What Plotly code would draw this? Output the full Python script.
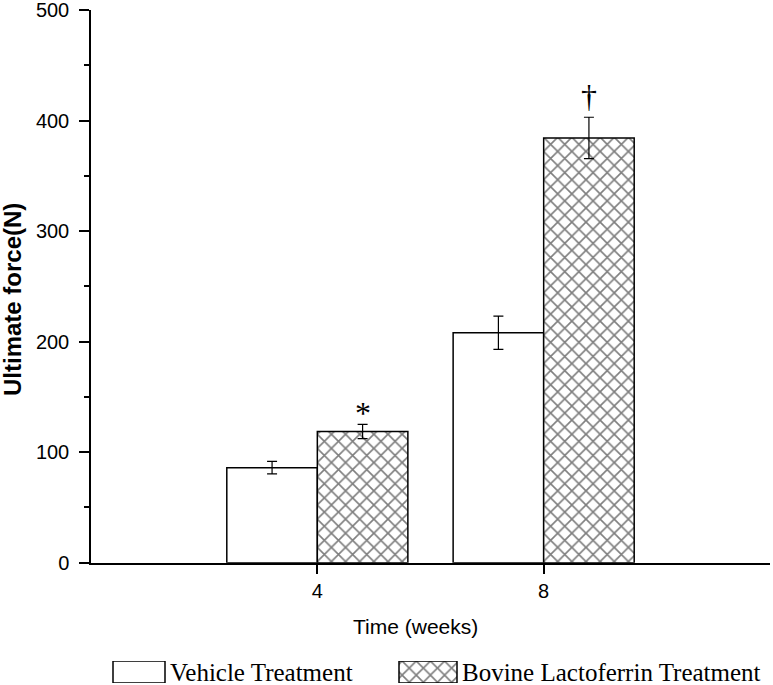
import plotly.graph_objects as go

# ---- data ----
weeks = ["4", "8"]
vehicle_mean = [86, 208]
vehicle_err = [5.6, 15]
blf_mean = [118.7, 384.3]
blf_err = [6.5, 18.7]
blf_marks = ["*", "\u2020"]
series_names = ["Vehicle Treatment", "Bovine Lactoferrin Treatment"]
y_ticks = [0, 100, 200, 300, 400, 500]

W, H = 773, 685
ML, MR, MT, MB = 91, 3, 10, 0
PW, PH = W - ML - MR, H - MT - MB
axis_bottom_px = 562.7


def py(p):  # pixel-from-top -> paper y
    return (H - MB - p) / PH


def px(p):  # pixel-from-left -> paper x
    return (p - ML) / PW


BARGAP = 0.2
half = (1 - BARGAP) / 4  # offset of each bar centre from the category centre

black = "black"
hatch = dict(shape="x", size=10, solidity=0.3, fgcolor=black, bgcolor="white")
mark_shift = [-9, 1]   # glyph-specific vertical nudges (px)

fig = go.Figure()
fig.add_trace(go.Bar(
    x=weeks, y=vehicle_mean, name=series_names[0],
    marker=dict(color="white", line=dict(color=black, width=1.5)),
    error_y=dict(type="data", array=vehicle_err, color=black, thickness=1.2, width=5),
    showlegend=False,
))
fig.add_trace(go.Bar(
    x=weeks, y=blf_mean, name=series_names[1],
    marker=dict(color="white", pattern=hatch, line=dict(color=black, width=1.5)),
    error_y=dict(type="data", array=blf_err, color=black, thickness=1.2, width=5),
    showlegend=False,
))

# significance marks above the lactoferrin error bars
for i, (m, e, mark) in enumerate(zip(blf_mean, blf_err, blf_marks)):
    fig.add_annotation(
        x=i + half, y=m + e, xref="x", yref="y", text=mark, showarrow=False,
        yanchor="bottom", yshift=mark_shift[i],
        font=dict(family="Liberation Serif, Times New Roman, serif", size=32, color=black),
    )

# ---- custom legend (swatches drawn on a hidden helper axis) ----
leg_y0, leg_y1 = 661, 683
swatches = [(113, 165, dict(color="white", line=dict(color=black, width=1.5))),
            (399, 457, dict(color="white", pattern=hatch, line=dict(color=black, width=1.5)))]
for (x0, x1, mk) in swatches:
    fig.add_trace(go.Bar(
        x=[(x0 + x1) / 2], y=[1], base=0, width=[x1 - x0], marker=mk,
        xaxis="x2", yaxis="y2", showlegend=False, hoverinfo="skip",
    ))
for (x0, x1, _), name in zip(swatches, series_names):
    fig.add_annotation(
        x=x1 + 3, y=0.5, xref="x2", yref="y2", text=name, showarrow=False,
        xanchor="left", yanchor="middle",
        font=dict(family="Liberation Serif, Times New Roman, serif", size=25, color=black),
    )

# axis titles
fig.add_annotation(
    x=px(415.5), y=py(626), xref="paper", yref="paper", text="Time (weeks)",
    showarrow=False, xanchor="center", yanchor="middle",
    font=dict(family="Liberation Sans, Arial, sans-serif", size=21, color=black),
)
fig.add_annotation(
    x=px(13), y=py(300), xref="paper", yref="paper", text="<b>Ultimate force(N)</b>",
    showarrow=False, xanchor="center", yanchor="middle", textangle=-90,
    font=dict(family="Liberation Sans, Arial, sans-serif", size=24, color=black),
)

fig.update_layout(
    width=W, height=H,
    margin=dict(l=ML, r=MR, t=MT, b=MB, pad=0, autoexpand=False),
    paper_bgcolor="white", plot_bgcolor="white",
    barmode="group", bargap=BARGAP, bargroupgap=0,
    font=dict(family="Liberation Sans, Arial, sans-serif", size=20, color=black),
    xaxis=dict(
        type="category", range=[-1, 2], domain=[0, 1], automargin=False,
        showline=True, linecolor=black, linewidth=1.5,
        ticks="outside", ticklen=10, tickwidth=1.5, tickcolor=black,
        ticklabelstandoff=0, showgrid=False, zeroline=False,
        tickfont=dict(size=20),
    ),
    yaxis=dict(
        range=[0, 500.01], domain=[py(axis_bottom_px), 1], automargin=False,
        tickvals=y_ticks, ticklabeloverflow="allow",
        showline=True, linecolor=black, linewidth=1.5,
        ticks="outside", ticklen=10, tickwidth=1.5, tickcolor=black,
        minor=dict(ticks="outside", ticklen=5, dtick=50, tickwidth=1.5, tickcolor=black, showgrid=False),
        ticklabelstandoff=6, showgrid=False, zeroline=False,
        tickfont=dict(size=20),
    ),
    xaxis2=dict(range=[ML, ML + PW], domain=[0, 1], anchor="y2", visible=False, fixedrange=True),
    yaxis2=dict(range=[0, 1], domain=[py(leg_y1), py(leg_y0)], anchor="x2", visible=False, fixedrange=True),
)

fig.write_html(
    "out.html",
    config={"displayModeBar": False},
    post_script="document.body.style.margin='0';document.body.style.overflow='hidden';",
)
